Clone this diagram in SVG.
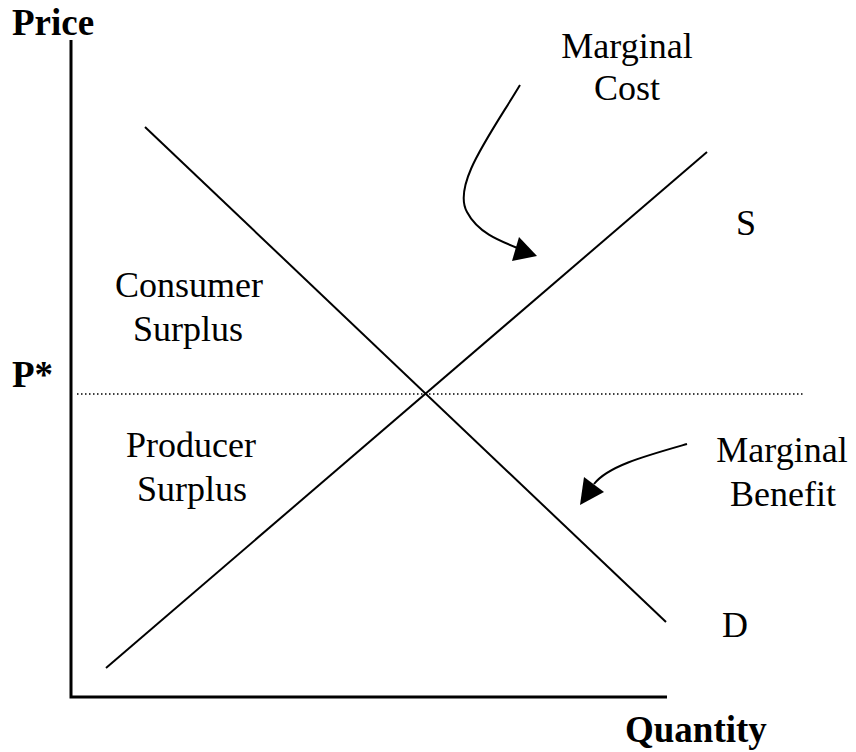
<svg xmlns="http://www.w3.org/2000/svg" width="856" height="752" viewBox="0 0 856 752">
<style>
.t{font-family:"Liberation Serif","Times New Roman",serif;font-size:36px;fill:#000}
.b{font-weight:bold;font-size:37px}
.ln{stroke:#000;stroke-width:2;fill:none}
.ax{stroke:#000;stroke-width:3;fill:none}
</style>
<rect width="856" height="752" fill="#fff"/>
<g id="axes">
<polyline class="ax" points="71,40 71,697 667,697"/>
</g>
<g id="connectors">
<line id="supply" class="ln" x1="106" y1="668" x2="707" y2="152"/>
<line id="demand" class="ln" x1="145" y1="127" x2="666" y2="622"/>
<line id="pstar-line" x1="77" y1="394" x2="805" y2="394" stroke="#000" stroke-width="1.5" stroke-dasharray="1.5,2.5"/>
<path class="ln" d="M520,85 C490,135 452,185 467,212 C478,233 500,241 520,249"/>
<polygon points="537,256 519,237 512,261" fill="#000"/>
<path class="ln" d="M687,444 C645,456 608,466 594,484"/>
<polygon points="580,505 584,477 604,492" fill="#000"/>
</g>
<g id="labels">
<text class="t b" x="12" y="35">Price</text>
<text class="t b" x="12" y="387">P*</text>
<text class="t b" x="625" y="742">Quantity</text>
<text class="t" x="627" y="58" text-anchor="middle">Marginal</text>
<text class="t" x="627" y="100" text-anchor="middle">Cost</text>
<text class="t" x="736" y="235">S</text>
<text class="t" x="722" y="637">D</text>
<text class="t" x="189" y="297" text-anchor="middle">Consumer</text>
<text class="t" x="188" y="341" text-anchor="middle">Surplus</text>
<text class="t" x="191" y="457" text-anchor="middle">Producer</text>
<text class="t" x="192" y="501" text-anchor="middle">Surplus</text>
<text class="t" x="782" y="462" text-anchor="middle">Marginal</text>
<text class="t" x="783" y="506" text-anchor="middle">Benefit</text>
</g>
</svg>
